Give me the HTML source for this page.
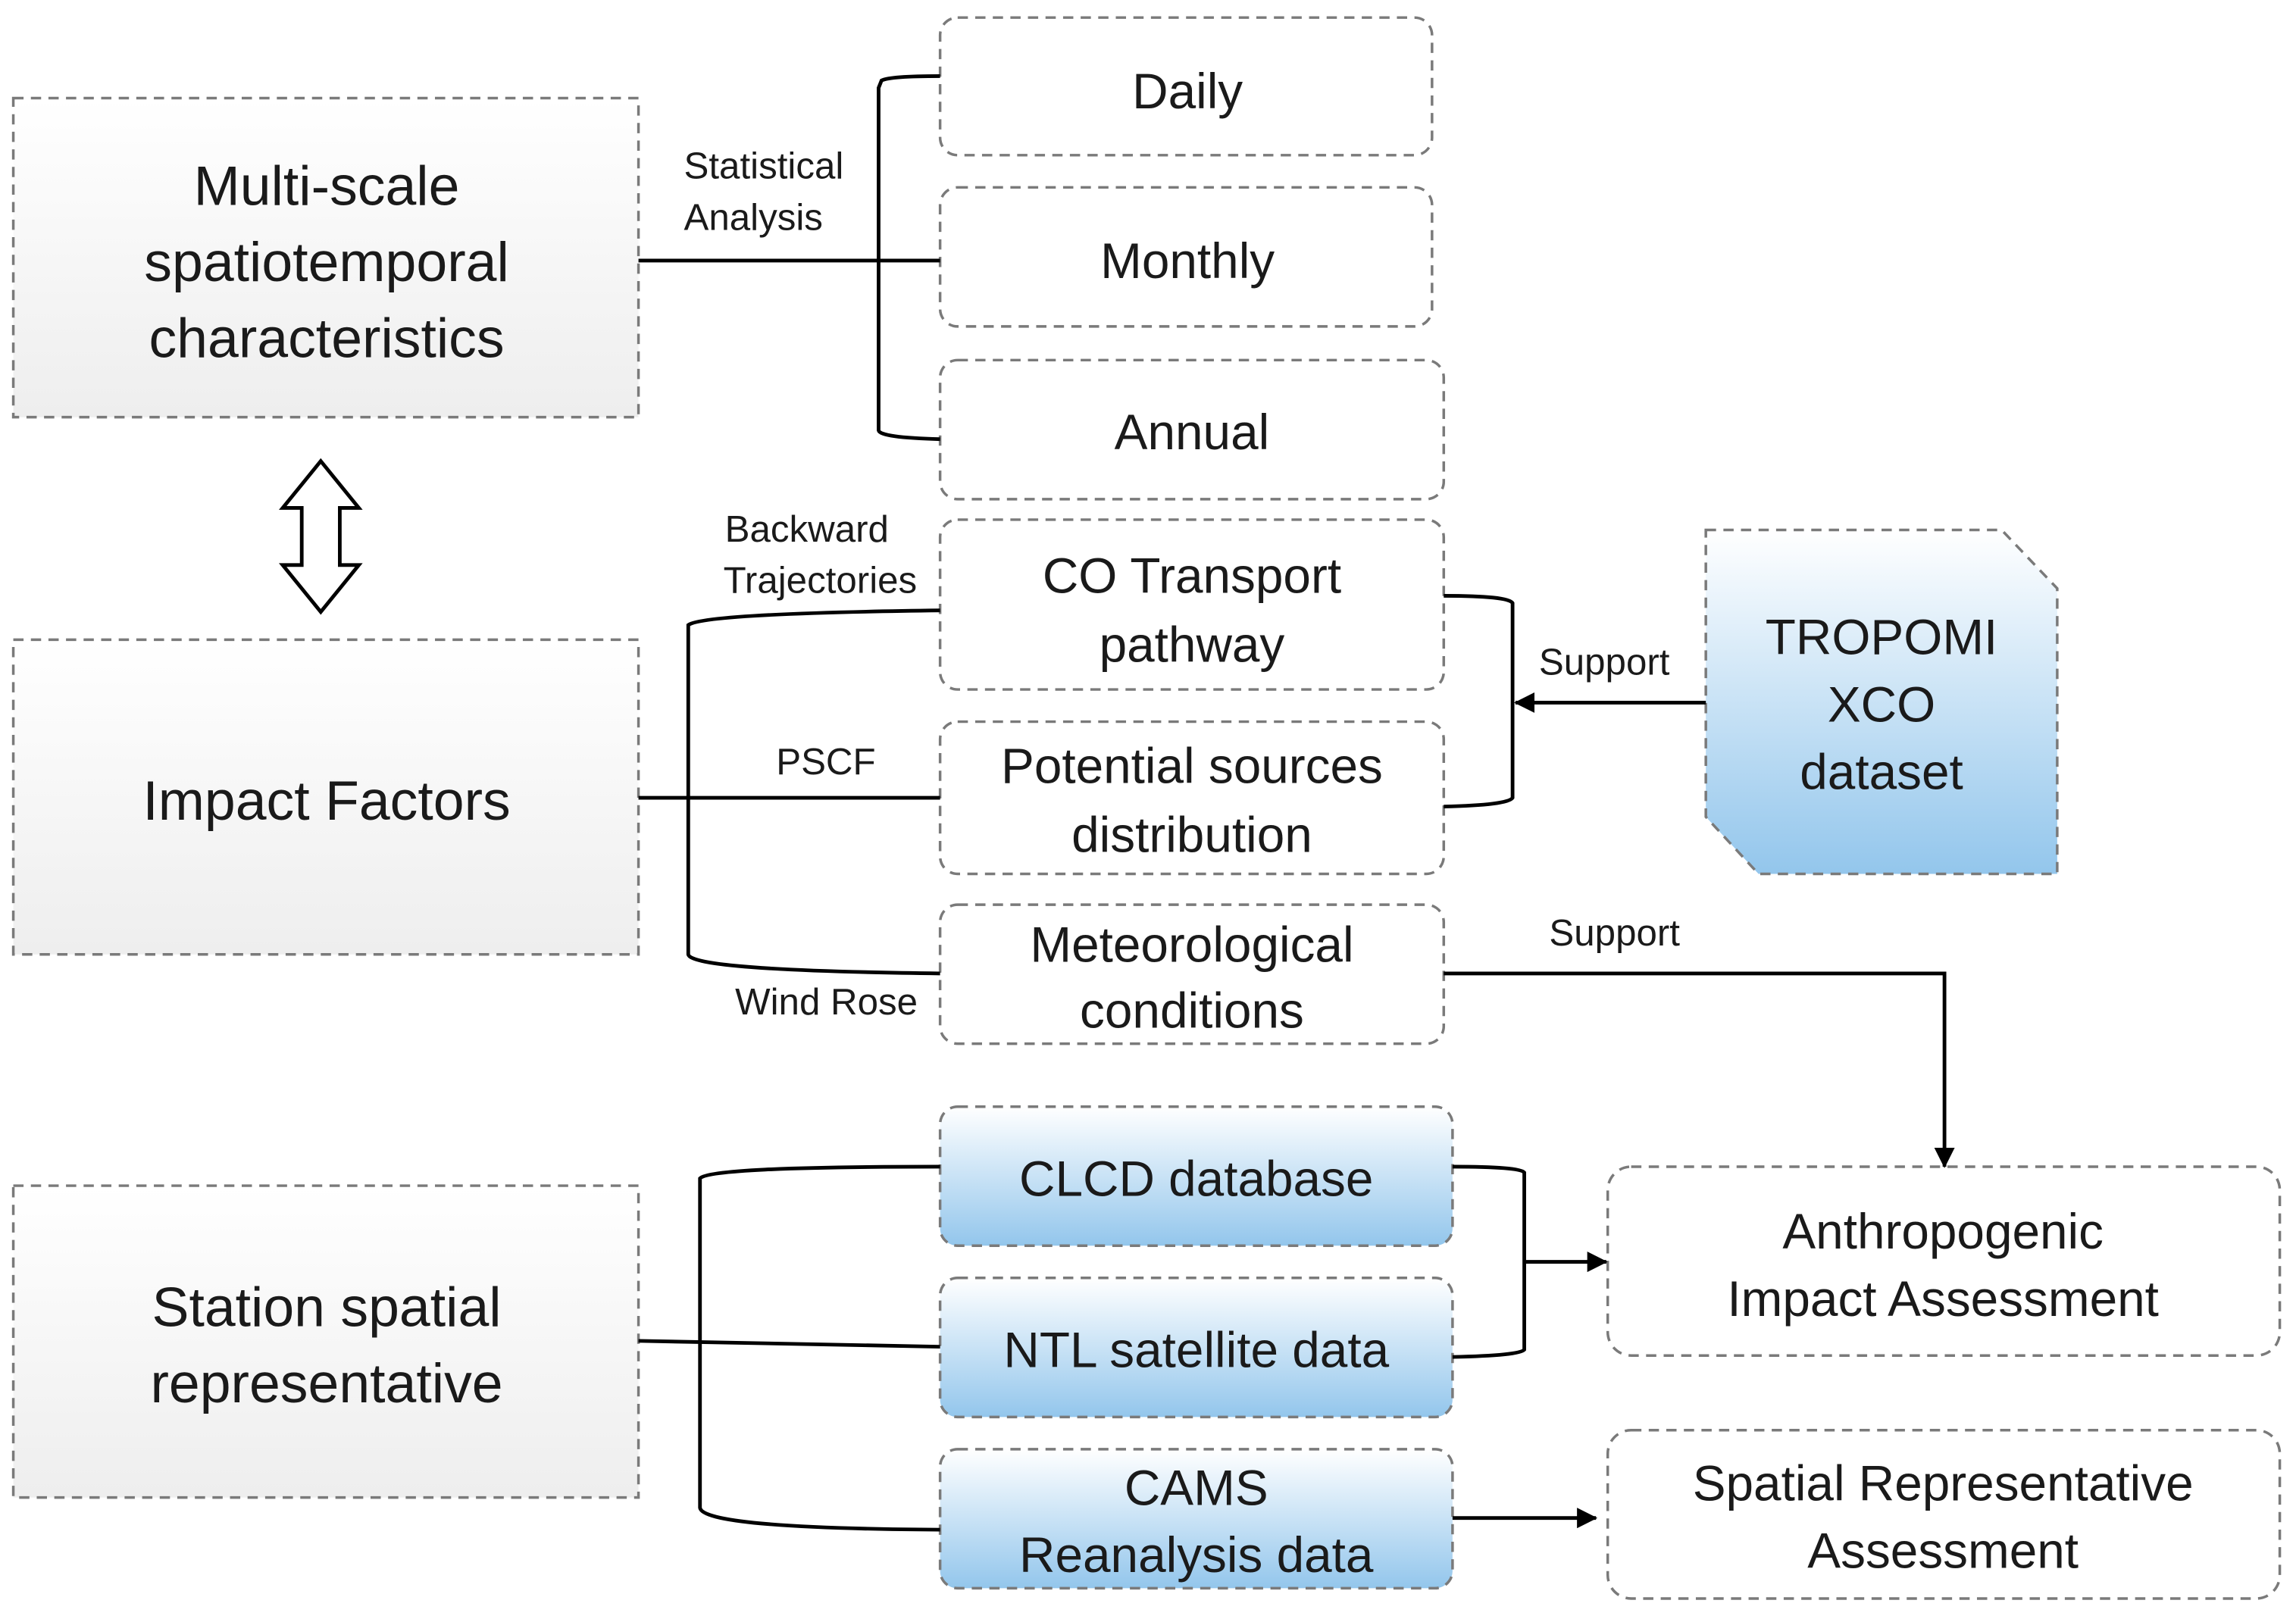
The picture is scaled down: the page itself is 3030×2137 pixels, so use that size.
<!DOCTYPE html>
<html><head><meta charset="utf-8"><style>
html,body{margin:0;padding:0;background:#fff}
svg{display:block}
text{font-family:"Liberation Sans",sans-serif;fill:#1a1a1a}
</style></head><body>
<svg width="3030" height="2137" viewBox="0 0 1568 1106" xmlns="http://www.w3.org/2000/svg">
<defs>
<linearGradient id="g" x1="0" y1="0" x2="0" y2="1"><stop offset="0" stop-color="#ffffff"/><stop offset="1" stop-color="#eeeeee"/></linearGradient>
<linearGradient id="b" x1="0" y1="0" x2="0" y2="1"><stop offset="0" stop-color="#ffffff"/><stop offset="1" stop-color="#93c6ec"/></linearGradient>
<marker id="ah" markerWidth="14" markerHeight="14" refX="13" refY="7" orient="auto" markerUnits="userSpaceOnUse"><path d="M0,0 L14,7 L0,14 z" fill="#000"/></marker>
</defs>
<g stroke="#7a7a7a" stroke-width="1.8" stroke-dasharray="7,5">
<rect x="9" y="67" width="427" height="218" fill="url(#g)"/>
<rect x="9" y="437" width="427" height="215" fill="url(#g)"/>
<rect x="9" y="810" width="427" height="213" fill="url(#g)"/>
<rect x="642" y="12" width="336" height="94" rx="12" fill="#fff"/>
<rect x="642" y="128" width="336" height="95" rx="12" fill="#fff"/>
<rect x="642" y="246" width="344" height="95" rx="12" fill="#fff"/>
<rect x="642" y="355" width="344" height="116" rx="12" fill="#fff"/>
<rect x="642" y="493" width="344" height="104" rx="12" fill="#fff"/>
<rect x="642" y="618" width="344" height="95" rx="12" fill="#fff"/>
<rect x="642" y="756" width="350" height="95" rx="12" fill="url(#b)"/>
<rect x="642" y="873" width="350" height="95" rx="12" fill="url(#b)"/>
<rect x="642" y="990" width="350" height="95" rx="12" fill="url(#b)"/>
<path d="M1165,362 L1367,362 L1405,402 L1405,597 L1201,597 L1165,558 Z" fill="url(#b)"/>
<rect x="1098" y="797" width="459" height="129" rx="16" fill="#fff"/>
<rect x="1098" y="977" width="459" height="115" rx="16" fill="#fff"/>
</g>
<path d="M219,315 L245,347 L232,347 L232,386 L245,386 L219,418 L193,386 L206,386 L206,347 L193,347 Z" fill="#fff" stroke="#000" stroke-width="2.5"/>
<g stroke="#000" stroke-width="2.5" fill="none">
<path d="M436,178 L642,178"/>
<path d="M642,52 Q608,52 602,55 L600,60 L600,294 Q601,299 642,300"/>
<path d="M642,417 Q480,419 470,427 L470,652 Q472,663 642,665"/>
<path d="M436,545 L642,545"/>
<path d="M986,407 Q1030,407 1033,412 L1033,545 Q1030,550 986,551"/>
<path d="M1165,480 L1035,480" marker-end="url(#ah)"/>
<path d="M986,665 L1328,665 L1328,797" marker-end="url(#ah)"/>
<path d="M436,916 L642,920"/>
<path d="M642,797 Q485,797 478,805 L478,1030 Q480,1044 642,1045"/>
<path d="M992,797 Q1038,797 1041,801 L1041,922 Q1038,926 992,927"/>
<path d="M1041,862 L1097,862" marker-end="url(#ah)"/>
<path d="M992,1037 L1090,1037" marker-end="url(#ah)"/>
</g>
<g text-anchor="middle" font-size="38">
<text x="223" y="140">Multi-scale</text>
<text x="223" y="192">spatiotemporal</text>
<text x="223" y="244">characteristics</text>
<text x="223" y="560">Impact Factors</text>
<text x="223" y="906">Station spatial</text>
<text x="223" y="958">representative</text>
</g>
<g text-anchor="middle" font-size="34">
<text x="811" y="74">Daily</text>
<text x="811" y="190">Monthly</text>
<text x="814" y="307">Annual</text>
<text x="814" y="405">CO Transport</text>
<text x="814" y="452">pathway</text>
<text x="814" y="535">Potential sources</text>
<text x="814" y="582">distribution</text>
<text x="814" y="657">Meteorological</text>
<text x="814" y="702">conditions</text>
<text x="817" y="817">CLCD  database</text>
<text x="817" y="934">NTL satellite  data</text>
<text x="817" y="1028">CAMS</text>
<text x="817" y="1074">Reanalysis data</text>
<text x="1285" y="447">TROPOMI</text>
<text x="1285" y="493">XCO</text>
<text x="1285" y="539">dataset</text>
<text x="1327" y="853">Anthropogenic</text>
<text x="1327" y="899">Impact Assessment</text>
<text x="1327" y="1025">Spatial Representative</text>
<text x="1327" y="1071">Assessment</text>
</g>
<g font-size="25.5">
<text x="467" y="122">Statistical</text>
<text x="467" y="157">Analysis</text>
<text x="495" y="370">Backward</text>
<text x="494" y="405">Trajectories</text>
<text x="530" y="529">PSCF</text>
<text x="502" y="693">Wind Rose</text>
<text x="1051" y="461">Support</text>
<text x="1058" y="646">Support</text>
</g>
</svg>
</body></html>
